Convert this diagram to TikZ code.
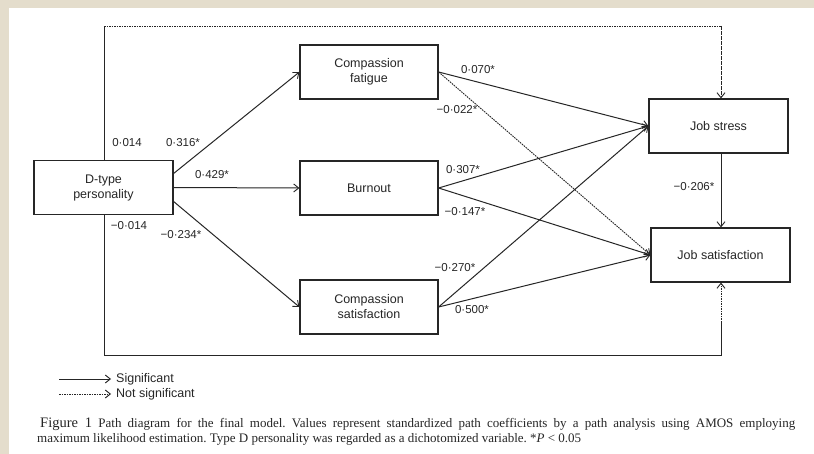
\documentclass[tikz,border=0pt]{standalone}
\usepackage{fontspec}
\setmainfont{Liberation Serif}
\newfontfamily\diagfont{Liberation Sans}
\usetikzlibrary{arrows.meta,calc}
\definecolor{paper}{HTML}{E4DDCC}
\definecolor{ink}{HTML}{262626}
\frenchspacing
\begin{document}
\begin{tikzpicture}[x=1pt,y=-1pt,
  box/.style={draw=ink, line width=1.2pt, minimum width=139pt, minimum height=54pt,
    inner sep=0pt, align=center, text=ink, font=\diagfont\fontsize{12.5}{15}\selectfont},
  coef/.style={inner sep=0pt, text=ink, font=\diagfont\fontsize{11.5}{13}\selectfont},
  legtext/.style={inner sep=0pt, anchor=west, text=ink, font=\diagfont\fontsize{12.5}{14}\selectfont},
  tip/.style={-{Straight Barb[length=5pt,width=8pt,line width=0.9pt]}},
  sig/.style={draw=ink, line width=1pt},
  nsig/.style={draw=ink, line width=0.9pt, dash pattern=on 1.6pt off 0.9pt},
]
% paper edge and page
\fill[paper] (0,0) rectangle (814,454);
\fill[white] (9,8) rectangle (814,454);
\useasboundingbox (0,0) rectangle (814,454);

% variables
\node[box] (dtype) at (103.5,187.5) {D-type\\personality};
\node[box, minimum width=138pt] (cf) at (369,72) {Compassion\\fatigue};
\node[box, minimum width=138pt] (bo) at (369,188) {Burnout};
\node[box, minimum width=138pt] (cs) at (369,307) {Compassion\\satisfaction};
\node[box] (js) at (718.5,126) {Job stress};
\node[box] (jsat) at (720.5,255) {Job satisfaction};

% outer paths from D-type personality to the two outcomes
\coordinate (tl) at (104,26);
\coordinate (tr) at (721,26);
\coordinate (bl) at (104,355);
\coordinate (br) at (721,355);
\draw[sig] (dtype.north -| tl) -- (tl);
\draw[nsig] (tl) -- (tr);
\draw[nsig, tip] (tr) -- (tr |- js.north);
\draw[sig] (dtype.south -| bl) -- (bl) -- (br) -- ($(br)!0.45!(br |- jsat.south)$);
\draw[nsig, tip] ($(br)!0.45!(br |- jsat.south)$) -- (br |- jsat.south);

% D-type personality to the mediators
\draw[sig, tip] ($(dtype.east)+(0,-14)$) -- (cf.west);
\draw[sig, tip] (dtype.east) -- (bo.west);
\draw[sig, tip] ($(dtype.east)+(0,14)$) -- (cs.west);

% mediators to outcomes
\draw[sig, tip] (cf.east) -- (js.west);
\draw[nsig, tip] (cf.east) -- (jsat.west);
\draw[sig, tip] (bo.east) -- (js.west);
\draw[sig, tip] (bo.east) -- (jsat.west);
\draw[sig, tip] (cs.east) -- (js.west);
\draw[sig, tip] (cs.east) -- (jsat.west);
\draw[sig, tip] (js.south -| tr) -- (jsat.north -| tr);

% path coefficients
\node[coef] (c1) at (127,143) {0·014};
\node[coef] (c2) at (183,143) {0·316*};
\node[coef] (c3) at (212,175) {0·429*};
\node[coef] (c4) at (129,226) {−0·014};
\node[coef] (c5) at (181,235) {−0·234*};
\node[coef] (c6) at (478,70) {0·070*};
\node[coef] (c7) at (457,110) {−0·022*};
\node[coef] (c8) at (463,170) {0·307*};
\node[coef] (c9) at (465,212) {−0·147*};
\node[coef] (c10) at (455,268) {−0·270*};
\node[coef] (c11) at (472,310) {0·500*};
\node[coef] (c12) at (694,187) {−0·206*};

% legend
\coordinate (la) at (59,379);
\coordinate (lb) at (111,379);
\coordinate (lc) at (59,394);
\coordinate (ld) at (111,394);
\draw[sig, tip] (la) -- (lb);
\draw[nsig, tip] (lc) -- (ld);
\node[legtext] (lt1) at (116,379) {Significant};
\node[legtext] (lt2) at (116,394) {Not significant};

% caption
\node[anchor=base west, inner sep=0pt, text=ink] (cap1) at (40,427)
  {\fontsize{13}{15}\selectfont\makebox[755pt][s]{{\fontsize{14.5}{16}\selectfont Figure 1} Path diagram for the final model. Values represent standardized path coefficients by a path analysis using AMOS employing}};
\node[anchor=base west, inner sep=0pt, text=ink] (cap2) at (37,442)
  {\fontsize{13}{15}\selectfont maximum likelihood estimation. Type D personality was regarded as a dichotomized variable. *\textit{P} < 0.05};
\end{tikzpicture}
\end{document}
